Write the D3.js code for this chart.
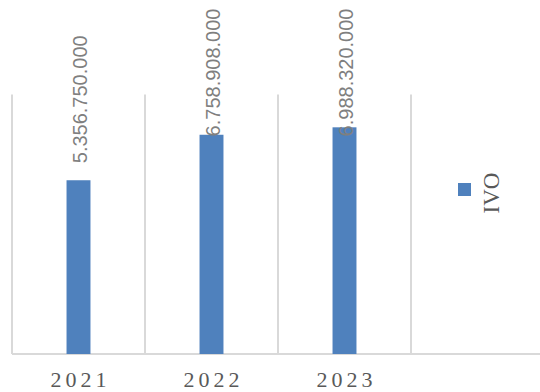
<!DOCTYPE html>
<html>
<head>
<meta charset="utf-8">
<script src="https://cdn.jsdelivr.net/npm/d3@7"></script>
<style>
  html, body { margin: 0; padding: 0; background: #fff; }
  svg { display: block; }
</style>
</head>
<body>
<svg id="chart" width="540" height="392"></svg>
<script>
const categories = ["2021", "2022", "2023", ""];
const values = [5356750000, 6758908000, 6988320000, null];
const seriesName = "IVO";
const yMax = 8000000000;

const svg = d3.select("#chart");
const x = d3.scaleBand().domain(categories).range([12, 544]).padding(0);
const y = d3.scaleLinear().domain([0, yMax]).range([354, 94.5]);
const barW = x.bandwidth() * 0.18;
const fmt = v => d3.format(",")(v).replace(/,/g, ".");

// vertical gridlines at category boundaries
svg.append("g").selectAll("line").data(categories).join("line")
  .attr("x1", d => x(d)).attr("x2", d => x(d))
  .attr("y1", y(yMax)).attr("y2", y(0))
  .attr("stroke", "#d9d9d9").attr("stroke-width", 2);

// baseline axis
const xAxis = svg.append("g").attr("transform", `translate(0,${y(0)})`)
  .call(d3.axisBottom(x).tickSize(0).tickPadding(0));
xAxis.select(".domain").attr("stroke", "#d9d9d9").attr("stroke-width", 2).attr("d", "M12,0H540");
xAxis.selectAll(".tick text")
  .attr("y", 33)
  .attr("dy", 0)
  .attr("dx", 2)
  .style("font-family", "'Liberation Serif', 'DejaVu Serif', serif")
  .style("font-size", "22px")
  .style("letter-spacing", "4px")
  .attr("fill", "#595959");

const data = categories.map((c, i) => ({ c, v: values[i] })).filter(d => d.v != null);

svg.append("g").selectAll("rect").data(data).join("rect")
  .attr("x", d => x(d.c) + x.bandwidth() / 2 - barW / 2)
  .attr("width", barW)
  .attr("y", d => y(d.v))
  .attr("height", d => y(0) - y(d.v))
  .attr("fill", "#4f81bd");

// data labels (rotated)
const labels = svg.append("g").selectAll("text").data(data).join("text")
  .attr("text-anchor", "start")
  .attr("dy", "0.35em")
  .style("font-family", "'Liberation Sans', Arial, sans-serif")
  .style("font-size", "20px")
  .attr("fill", "#7f7f7f")
  .text(d => fmt(d.v));
labels.each(function(d) {
  const len = this.getComputedTextLength();
  const cx = x(d.c) + x.bandwidth() / 2 + 1;
  const start = Math.max(y(d.v) - 17, 8.5 + len);
  d3.select(this).attr("transform", `translate(${cx},${start}) rotate(-90)`);
});

// legend
const legend = svg.append("g");
legend.append("rect").attr("x", 458).attr("y", 183).attr("width", 13).attr("height", 13).attr("fill", "#4f81bd");
legend.append("text")
  .attr("transform", "translate(491,193) rotate(-90)")
  .attr("text-anchor", "middle")
  .attr("dy", "0.35em")
  .style("font-family", "'Liberation Serif', 'DejaVu Serif', serif")
  .style("font-size", "23px")
  .attr("fill", "#595959")
  .text(seriesName);
</script>
</body>
</html>
